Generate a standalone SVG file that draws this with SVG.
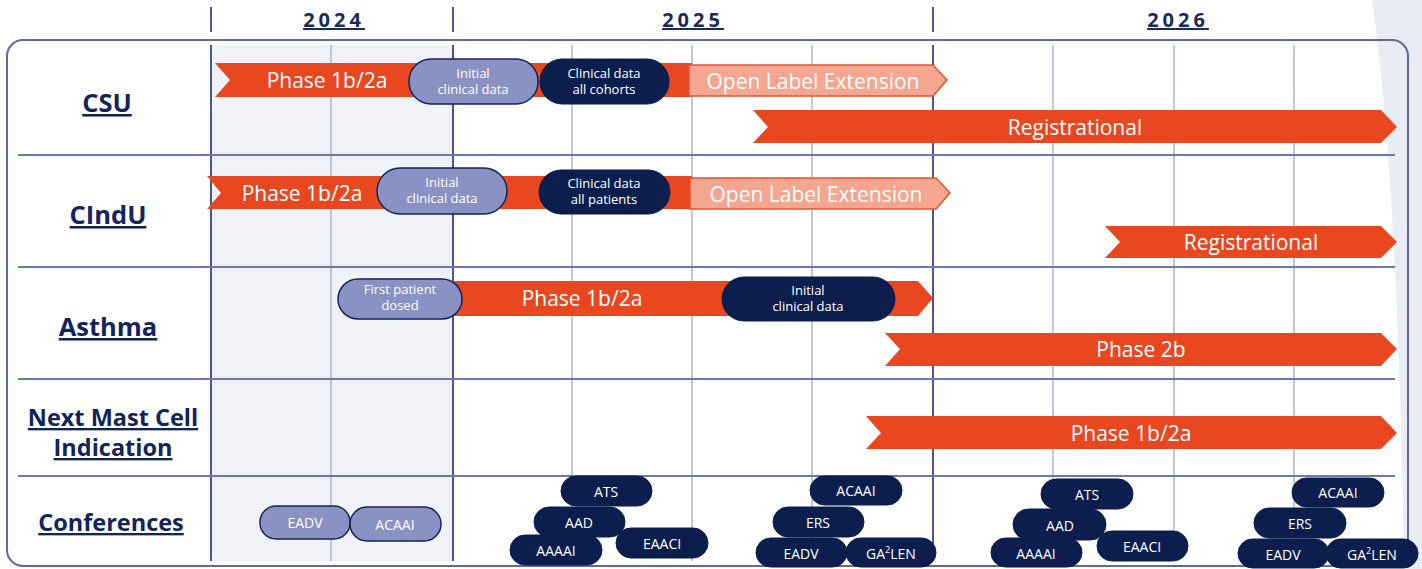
<svg xmlns="http://www.w3.org/2000/svg" width="1422" height="569" viewBox="0 0 1422 569">
<style>
.yr{font-family:"Open Sans","DejaVu Sans",sans-serif;font-weight:700;font-size:20px;fill:#1a2a5a;letter-spacing:4px;text-decoration:underline;text-anchor:middle}
.lbl{font-family:"Open Sans","DejaVu Sans",sans-serif;font-weight:700;font-size:23.5px;fill:#13245a;text-decoration:underline;text-anchor:middle}
.big{font-size:25.5px}
.bar{fill:#e8471f}
.bt{font-family:"Open Sans","DejaVu Sans",sans-serif;font-size:21px;fill:#ffffff;text-anchor:middle;dominant-baseline:central}
.ole{fill:#f4a690;stroke:#e8532c;stroke-width:1.5}
.lt{fill:#8a92c4;stroke:#13245a;stroke-width:1.5}
.dk{fill:#0c1e4e;stroke:#0c1e4e;stroke-width:1}
.nt{font-family:"Open Sans","DejaVu Sans",sans-serif;font-size:13px;fill:#ffffff;text-anchor:middle}
.ct{font-family:"Open Sans","DejaVu Sans",sans-serif;font-size:14px;fill:#ffffff;text-anchor:middle;dominant-baseline:central}
.gd{stroke:#4b5596;stroke-width:2}
.gl{stroke:#aeb4d5;stroke-width:1.5}
.hl{stroke:#6f78ad;stroke-width:2}
</style>
<rect width="1422" height="569" fill="#ffffff"/>
<path d="M1372,0 Q1398,180 1404,569 L1422,569 L1422,0 Z" fill="#e9ecf5"/>
<rect x="211" y="45" width="242" height="516" fill="#f0f2f8"/>
<rect x="7" y="40" width="1401" height="526" rx="16" fill="none" stroke="#5e68a3" stroke-width="2"/>
<g id="header">
<line x1="211" y1="7" x2="211" y2="32" class="gd" stroke-width="2.5"/>
<line x1="453" y1="7" x2="453" y2="32" class="gd" stroke-width="2.5"/>
<line x1="933" y1="7" x2="933" y2="32" class="gd" stroke-width="2.5"/>
<text class="yr" x="334" y="27">2024</text>
<text class="yr" x="693" y="27">2025</text>
<text class="yr" x="1178" y="27">2026</text>
</g>
<g id="grid">
<line x1="331" y1="45" x2="331" y2="561" class="gl"/>
<line x1="572" y1="45" x2="572" y2="561" class="gl"/>
<line x1="692" y1="45" x2="692" y2="561" class="gl"/>
<line x1="812" y1="45" x2="812" y2="561" class="gl"/>
<line x1="1053" y1="45" x2="1053" y2="561" class="gl"/>
<line x1="1174" y1="45" x2="1174" y2="561" class="gl"/>
<line x1="1294" y1="45" x2="1294" y2="561" class="gl"/>
<line x1="211" y1="45" x2="211" y2="561" class="gd"/>
<line x1="453" y1="45" x2="453" y2="561" class="gd"/>
<line x1="933" y1="45" x2="933" y2="561" class="gd"/>
<line x1="18" y1="155" x2="1395" y2="155" class="hl"/>
<line x1="18" y1="267" x2="1395" y2="267" class="hl"/>
<line x1="18" y1="379" x2="1395" y2="379" class="hl"/>
<line x1="18" y1="476" x2="1395" y2="476" class="hl"/>
</g>
<g id="labels">
<text class="lbl big" x="107" y="112">CSU</text>
<text class="lbl big" x="108" y="224">CIndU</text>
<text class="lbl big" x="108" y="336">Asthma</text>
<text class="lbl" x="113" y="426">Next Mast Cell</text>
<text class="lbl" x="113" y="456">Indication</text>
<text class="lbl" x="111" y="531">Conferences</text>
</g>
<g id="csu">
<path class="bar" d="M215,63 L692,63 L692,97 L215,97 L230,80 Z"/>
<text class="bt" x="327" y="80">Phase 1b/2a</text>
<path class="ole" d="M689,65 L933,65 L947,80 L933,96 L689,96 Z"/>
<text class="bt" x="813" y="81">Open Label Extension</text>
<path class="bar" d="M753,110 L1381,110 L1397,127 L1381,143 L753,143 L768,127 Z"/>
<text class="bt" x="1075" y="127">Registrational</text>
<rect class="lt" x="409" y="59" width="129" height="45" rx="22"/>
<text class="nt" x="473" y="78">Initial</text>
<text class="nt" x="473" y="94">clinical data</text>
<rect class="dk" x="540" y="59" width="129" height="45" rx="22"/>
<text class="nt" x="604" y="78">Clinical data</text>
<text class="nt" x="604" y="94">all cohorts</text>
</g>
<g id="cindu">
<path class="bar" d="M207,176 L692,176 L692,209 L207,209 L221,193 Z"/>
<text class="bt" x="302" y="193">Phase 1b/2a</text>
<path class="ole" d="M690,178 L936,178 L950,193 L936,209 L690,209 Z"/>
<text class="bt" x="816" y="194">Open Label Extension</text>
<path class="bar" d="M1105,226 L1381,226 L1397,242 L1381,258 L1105,258 L1120,242 Z"/>
<text class="bt" x="1251" y="242">Registrational</text>
<rect class="lt" x="377" y="168" width="130" height="46" rx="23"/>
<text class="nt" x="442" y="187">Initial</text>
<text class="nt" x="442" y="203">clinical data</text>
<rect class="dk" x="539" y="170" width="131" height="44" rx="22"/>
<text class="nt" x="604" y="188">Clinical data</text>
<text class="nt" x="604" y="204">all patients</text>
</g>
<g id="asthma">
<path class="bar" d="M453,281 L918,281 L933,298 L918,316 L453,316 Z"/>
<text class="bt" x="582" y="298">Phase 1b/2a</text>
<path class="bar" d="M885,333 L1381,333 L1397,349 L1381,366 L885,366 L900,349 Z"/>
<text class="bt" x="1141" y="349">Phase 2b</text>
<rect class="lt" x="338" y="279" width="124" height="40" rx="20"/>
<text class="nt" x="400" y="294">First patient</text>
<text class="nt" x="400" y="310">dosed</text>
<rect class="dk" x="722" y="277" width="173" height="44" rx="22"/>
<text class="nt" x="808" y="295">Initial</text>
<text class="nt" x="808" y="311">clinical data</text>
</g>
<g id="nextmastcell">
<path class="bar" d="M866,416 L1381,416 L1397,433 L1381,449 L866,449 L881,433 Z"/>
<text class="bt" x="1131" y="433">Phase 1b/2a</text>
</g>
<g id="conferences">
<rect class="lt" x="260" y="506" width="90" height="33" rx="16"/><text class="ct" x="305" y="522">EADV</text>
<rect class="lt" x="350" y="507" width="91" height="34" rx="17"/><text class="ct" x="395" y="524">ACAAI</text>
<rect class="dk" x="561" y="476" width="91" height="30" rx="15"/><text class="ct" x="606" y="491">ATS</text>
<rect class="dk" x="534" y="507" width="91" height="30" rx="15"/><text class="ct" x="579" y="522">AAD</text>
<rect class="dk" x="616" y="528" width="92" height="30" rx="15"/><text class="ct" x="662" y="543">EAACI</text>
<rect class="dk" x="510" y="535" width="92" height="30" rx="15"/><text class="ct" x="556" y="550">AAAAI</text>
<rect class="dk" x="810" y="476" width="92" height="29" rx="14.5"/><text class="ct" x="856" y="490">ACAAI</text>
<rect class="dk" x="773" y="507" width="91" height="30" rx="15"/><text class="ct" x="818" y="522">ERS</text>
<rect class="dk" x="756" y="538" width="91" height="29" rx="14.5"/><text class="ct" x="801" y="553">EADV</text>
<rect class="dk" x="846" y="538" width="90" height="29" rx="14.5"/><text class="ct" x="891" y="553">GA<tspan font-size="9" dy="-4">2</tspan><tspan dy="4">LEN</tspan></text>
<rect class="dk" x="1041" y="479" width="92" height="30" rx="15"/><text class="ct" x="1087" y="494">ATS</text>
<rect class="dk" x="1013" y="509" width="93" height="31" rx="15.5"/><text class="ct" x="1060" y="525">AAD</text>
<rect class="dk" x="1097" y="531" width="91" height="30" rx="15"/><text class="ct" x="1142" y="546">EAACI</text>
<rect class="dk" x="991" y="538" width="91" height="29" rx="14.5"/><text class="ct" x="1036" y="553">AAAAI</text>
<rect class="dk" x="1292" y="478" width="92" height="29" rx="14.5"/><text class="ct" x="1338" y="492">ACAAI</text>
<rect class="dk" x="1254" y="508" width="92" height="30" rx="15"/><text class="ct" x="1300" y="523">ERS</text>
<rect class="dk" x="1238" y="539" width="91" height="29" rx="14.5"/><text class="ct" x="1283" y="554">EADV</text>
<rect class="dk" x="1326" y="539" width="92" height="29" rx="14.5"/><text class="ct" x="1372" y="554">GA<tspan font-size="9" dy="-4">2</tspan><tspan dy="4">LEN</tspan></text>
</g>
</svg>
